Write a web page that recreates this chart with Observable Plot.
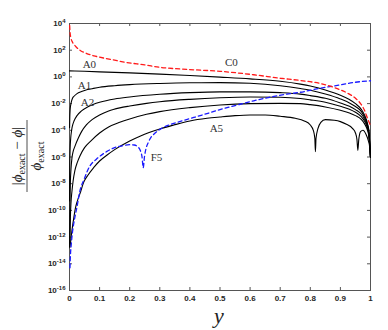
<!DOCTYPE html>
<html><head><meta charset="utf-8">
<script src="https://cdn.jsdelivr.net/npm/d3@7"></script>
<script src="https://cdn.jsdelivr.net/npm/@observablehq/plot@0.6"></script>
<style>body{margin:0;background:#fff}</style>
</head><body><div id="chart"></div>
<script>
// x positions (y coordinate of the problem) and log10 of the relative error
const tA0 = [0, 0.05, 0.1, 0.2, 0.3, 0.4, 0.5, 0.6, 0.7, 0.767, 0.8, 0.85, 0.9, 0.93, 0.95, 0.97, 0.98, 0.99, 0.995, 1];
const eA0 = [0.45, 0.42, 0.38, 0.3, 0.21, 0.1, -0.02, -0.15, -0.33, -0.54, -0.68, -0.98, -1.38, -1.7, -2.0, -2.45, -2.85, -3.5, -4.1, -6];
const tA1 = [0.0003, 0.001, 0.002, 0.004, 0.007, 0.01, 0.015, 0.025, 0.04, 0.06, 0.08, 0.1, 0.15, 0.2, 0.3, 0.4, 0.5, 0.6, 0.7, 0.767, 0.8, 0.85, 0.9, 0.93, 0.95, 0.97, 0.98, 0.99, 0.995, 1];
const eA1 = [-3.8, -3.0, -2.5, -2.1, -1.8, -1.6, -1.45, -1.25, -1.1, -0.95, -0.86, -0.78, -0.66, -0.58, -0.49, -0.44, -0.43, -0.48, -0.66, -0.87, -1.0, -1.28, -1.65, -1.95, -2.22, -2.6, -3.0, -3.6, -4.2, -6];
const tA2 = [0.0003, 0.0006, 0.001, 0.002, 0.004, 0.007, 0.01, 0.015, 0.025, 0.04, 0.06, 0.08, 0.1, 0.15, 0.2, 0.3, 0.4, 0.5, 0.6, 0.7, 0.767, 0.8, 0.85, 0.9, 0.93, 0.95, 0.97, 0.98, 0.99, 0.995, 1];
const eA2 = [-9.3, -7.6, -6.5, -5.4, -4.6, -4.0, -3.65, -3.3, -2.9, -2.55, -2.25, -2.05, -1.9, -1.65, -1.5, -1.3, -1.18, -1.12, -1.12, -1.18, -1.29, -1.4, -1.6, -1.95, -2.2, -2.45, -2.8, -3.15, -3.7, -4.3, -6];
const tA3 = [0.0005, 0.001, 0.002, 0.003, 0.005, 0.008, 0.012, 0.018, 0.029, 0.04, 0.056, 0.075, 0.1, 0.13, 0.167, 0.2, 0.256, 0.3, 0.4, 0.5, 0.6, 0.7, 0.767, 0.8, 0.85, 0.9, 0.93, 0.95, 0.97, 0.98, 0.99, 0.995, 1];
const eA3 = [-12.7, -10.5, -8.8, -7.8, -6.9, -6.1, -5.6, -5.2, -4.6, -4.1, -3.6, -3.2, -2.85, -2.55, -2.32, -2.18, -1.98, -1.86, -1.68, -1.56, -1.5, -1.52, -1.62, -1.72, -1.9, -2.2, -2.42, -2.65, -3.0, -3.3, -3.85, -4.4, -6];
const tA4 = [0.001, 0.002, 0.003, 0.005, 0.008, 0.012, 0.018, 0.026, 0.035, 0.05, 0.073, 0.1, 0.13, 0.167, 0.2, 0.256, 0.3, 0.4, 0.5, 0.6, 0.7, 0.767, 0.8, 0.85, 0.9, 0.93, 0.95, 0.97, 0.98, 0.99, 0.995, 1];
const eA4 = [-12.5, -11.6, -10.5, -9.4, -8.6, -7.8, -7.0, -6.4, -5.9, -5.3, -4.75, -4.2, -3.75, -3.4, -3.15, -2.8, -2.6, -2.3, -2.1, -2.0, -1.98, -2.0, -2.08, -2.25, -2.5, -2.7, -2.9, -3.2, -3.5, -4.0, -4.5, -6];
const tA5 = [0.001, 0.003, 0.006, 0.01, 0.014, 0.02, 0.026, 0.037, 0.047, 0.06, 0.08, 0.1, 0.125, 0.15, 0.2, 0.236, 0.3, 0.347, 0.4, 0.457, 0.5, 0.55, 0.6, 0.65, 0.7, 0.75, 0.78, 0.8, 0.81, 0.815, 0.817, 0.819, 0.825, 0.835, 0.85, 0.88, 0.9, 0.92, 0.94, 0.95, 0.955, 0.958, 0.961, 0.967, 0.975, 0.985, 0.993, 0.997, 1];
const eA5 = [-12.8, -12.5, -11.9, -11.2, -10.6, -9.8, -9.3, -8.6, -7.9, -7.4, -6.8, -6.3, -5.85, -5.45, -4.8, -4.42, -3.9, -3.6, -3.3, -3.1, -3.0, -2.9, -2.85, -2.85, -2.95, -3.1, -3.3, -3.6, -4.0, -4.6, -5.6, -4.6, -3.9, -3.4, -3.2, -3.25, -3.35, -3.55, -3.85, -4.2, -4.7, -5.5, -4.7, -4.1, -4.0, -4.3, -4.8, -5.2, -6];
const tC0 = [0.0005, 0.002, 0.005, 0.01, 0.014, 0.02, 0.037, 0.05, 0.081, 0.1, 0.15, 0.19, 0.25, 0.3, 0.4, 0.5, 0.612, 0.7, 0.767, 0.834, 0.878, 0.922, 0.95, 0.967, 0.98, 0.99, 0.999];
const eC0 = [3.85, 3.3, 2.9, 2.6, 2.46, 2.3, 1.96, 1.82, 1.58, 1.48, 1.25, 1.08, 0.9, 0.72, 0.55, 0.42, 0.16, -0.1, -0.27, -0.5, -0.79, -1.2, -1.6, -2.0, -2.5, -3.1, -3.6];
const tF5 = [0.0015, 0.003, 0.006, 0.01, 0.014, 0.018, 0.026, 0.034, 0.048, 0.067, 0.09, 0.123, 0.15, 0.178, 0.2, 0.215, 0.225, 0.235, 0.241, 0.245, 0.249, 0.255, 0.262, 0.27, 0.28, 0.302, 0.33, 0.358, 0.413, 0.468, 0.5, 0.55, 0.612, 0.66, 0.723, 0.767, 0.834, 0.9, 0.944, 1];
const eF5 = [-14.3, -13.4, -12.5, -11.6, -11.0, -10.5, -9.6, -8.6, -7.7, -6.7, -6.15, -5.6, -5.3, -5.15, -5.08, -5.1, -5.2, -5.5, -6.0, -6.8, -6.0, -5.3, -4.9, -4.55, -4.3, -3.91, -3.6, -3.4, -3.04, -2.67, -2.45, -2.15, -1.79, -1.55, -1.29, -1.15, -0.84, -0.6, -0.42, -0.29];

const xTicks = [0, 0.1, 0.2, 0.3, 0.4, 0.5, 0.6, 0.7, 0.8, 0.9, 1];
const yTickExp = [4, 2, 0, -2, -4, -6, -8, -10, -12, -14, -16];
const labelText = ["A0", "A1", "A2", "A5", "F5", "C0"];
const labelX = [0.066, 0.05, 0.06, 0.488, 0.289, 0.538];
const labelExp = [0.9, -0.63, -1.94, -3.85, -6.06, 1.06];

const rows = (name, ts, es) => ts.map((t, i) => ({series: name, t, v: Math.pow(10, es[i])}));
const black = [
  ...rows("A0", tA0, eA0), ...rows("A1", tA1, eA1), ...rows("A2", tA2, eA2),
  ...rows("A3", tA3, eA3), ...rows("A4", tA4, eA4), ...rows("A5", tA5, eA5)
];
const red = rows("C0", tC0, eC0);
const blue = rows("F5", tF5, eF5);
const yTicks = yTickExp.map(e => Math.pow(10, e));
const labels = labelText.map((s, i) => ({s, x: labelX[i], y: Math.pow(10, labelExp[i])}));

const axisColor = "#555";
const chart = Plot.plot({
  width: 388, height: 330,
  marginLeft: 69, marginRight: 18, marginTop: 23, marginBottom: 40,
  style: {background: "white", color: "#262626"},
  x: {domain: [0, 1]},
  y: {type: "log", domain: [1e-16, 1e4]},
  marks: [
    Plot.axisX({ticks: xTicks, tickSize: 0, tickPadding: 5, label: null, fontSize: 8, fontWeight: "bold", fontFamily: "Liberation Sans", tickFormat: d => String(d)}),
    Plot.axisY({ticks: yTicks, tickSize: 0, tickPadding: 4, label: null, fontSize: 8, fontWeight: "bold", fontFamily: "Liberation Sans", tickFormat: d => String(Math.round(Math.log10(d)))}),
    Plot.tickX(xTicks, {x: d => d, insetTop: 264, stroke: axisColor}),
    Plot.tickX(xTicks, {x: d => d, insetBottom: 264, stroke: axisColor}),
    Plot.tickY(yTicks, {y: d => d, insetRight: 298, stroke: axisColor}),
    Plot.tickY(yTicks, {y: d => d, insetLeft: 298, stroke: axisColor}),
    Plot.frame({stroke: axisColor}),
    Plot.line(black, {x: "t", y: "v", z: "series", stroke: "black", strokeWidth: 1.1, curve: "monotone-x"}),
    Plot.line(blue, {x: "t", y: "v", stroke: "#1a1aff", strokeWidth: 1.3, strokeDasharray: "4,3", curve: "monotone-x"}),
    Plot.line(red, {x: "t", y: "v", stroke: "#ff1a1a", strokeWidth: 1.3, strokeDasharray: "4,3", curve: "monotone-x"}),
    Plot.text(labels, {x: "x", y: "y", text: "s", fontFamily: "Liberation Serif", fontSize: 11, fill: "#333"})
  ]
});

const svg = d3.select(chart);
// superscript exponents on y tick labels
svg.selectAll('g[aria-label="y-axis tick label"] text').each(function() {
  const t = d3.select(this);
  const e = t.text();
  t.text("");
  t.append("tspan").text("10");
  t.append("tspan").attr("dy", "-0.5em").attr("font-size", 6).text(e);
});
// y label (fraction)
const g = svg.append("g").attr("transform", "translate(27,156) rotate(-90)")
  .attr("font-family", "Liberation Serif").attr("fill", "#222");
const num = g.append("text").attr("text-anchor", "middle").attr("y", -5).attr("font-size", 15);
num.append("tspan").text("|");
num.append("tspan").attr("font-style", "italic").text("ϕ");
num.append("tspan").attr("font-size", 10).attr("dy", 3).text("exact");
num.append("tspan").attr("dy", -3).text(" − ");
num.append("tspan").attr("font-style", "italic").text("ϕ");
num.append("tspan").text("|");
g.append("line").attr("x1", -36).attr("x2", 36).attr("y1", 0).attr("y2", 0).attr("stroke", "#222").attr("stroke-width", 0.8);
const den = g.append("text").attr("text-anchor", "middle").attr("y", 14).attr("font-size", 15);
den.append("tspan").attr("font-style", "italic").text("ϕ");
den.append("tspan").attr("font-size", 10).attr("dy", 3).text("exact");
// x label
svg.append("text").attr("x", 219).attr("y", 323).attr("text-anchor", "middle")
  .attr("font-family", "Liberation Serif").attr("font-style", "italic").attr("font-size", 22).attr("fill", "#222").text("y");

document.getElementById("chart").appendChild(chart);
</script>
</body></html>
